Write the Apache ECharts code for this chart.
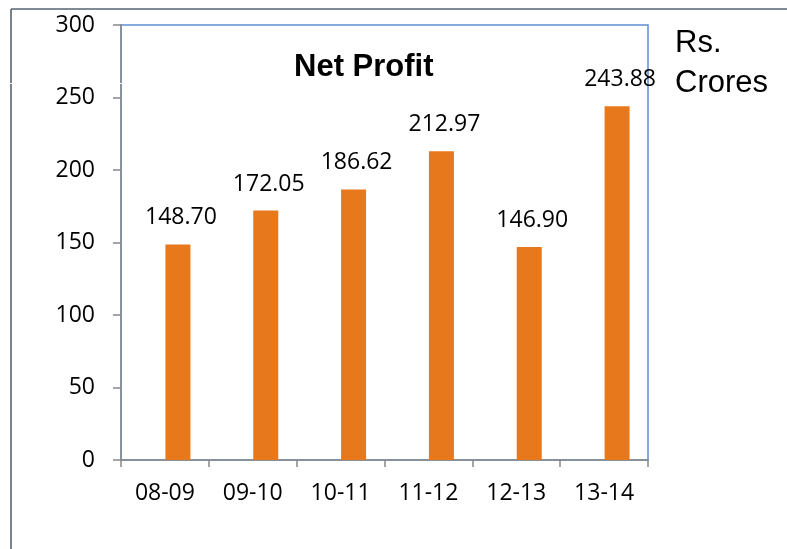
<!DOCTYPE html>
<html>
<head>
<meta charset="utf-8">
<script src="https://cdn.jsdelivr.net/npm/echarts@6/dist/echarts.min.js"></script>
<style>
  html, body { margin: 0; padding: 0; background: #fff; }
  #main { width: 787px; height: 549px; }
</style>
</head>
<body>
<div id="main"></div>
<script>
var years = ["08-09", "09-10", "10-11", "11-12", "12-13", "13-14"];
var netProfit = [148.70, 172.05, 186.62, 212.97, 146.90, 243.88];
var yTicks = { min: 0, max: 300, step: 50 };

var chart = echarts.init(document.getElementById("main"));
var option = {
  backgroundColor: "#fff",
  animation: false,
  title: {
    text: "Net Profit",
    left: 289,
    top: 47,
    textStyle: {
      fontFamily: "Liberation Sans",
      fontWeight: "bold",
      fontSize: 31,
      color: "#000",
    },
  },
  grid: {
    left: 121,
    right: 139,
    top: 25,
    bottom: 89,
    show: true,
    borderColor: "#5f8fd2",
    borderWidth: 1.5,
  },
  xAxis: {
    type: "category",
    data: years,
    axisLine: { lineStyle: { color: "#888", width: 1.5 } },
    axisTick: { show: true, length: 7, lineStyle: { color: "#888", width: 1.5 } },
    axisLabel: {
      margin: 22,
      color: "#000",
      fontFamily: "Open Sans",
      fontSize: 23,
    },
  },
  yAxis: {
    type: "value",
    min: yTicks.min,
    max: yTicks.max,
    interval: yTicks.step,
    axisLine: { show: true, lineStyle: { color: "#888", width: 1.5 } },
    axisTick: { show: true, length: 8, lineStyle: { color: "#888", width: 1.5 } },
    splitLine: { show: false },
    axisLabel: {
      margin: 26,
      color: "#000",
      fontFamily: "Open Sans",
      fontSize: 23,
    },
  },
  graphic: [
    {
      type: "line",
      shape: { x1: 11, y1: 9, x2: 11, y2: 549 },
      style: { stroke: "#56636f", lineWidth: 1.6 },
    },
    {
      type: "line",
      shape: { x1: 11, y1: 9, x2: 787, y2: 9 },
      style: { stroke: "#56636f", lineWidth: 1.6 },
    },
    {
      type: "rect",
      z: 100,
      shape: { x: 0, y: 83, width: 122, height: 1 },
      style: { fill: "#fff" },
    },
    {
      type: "text",
      left: 675,
      top: 28,
      style: {
        text: "Rs.",
        fontFamily: "Liberation Sans",
        fontSize: 31,
        fill: "#000",
      },
    },
    {
      type: "text",
      left: 675,
      top: 68,
      style: {
        text: "Crores",
        fontFamily: "Liberation Sans",
        fontSize: 31,
        fill: "#000",
      },
    },
  ],
  series: [
    {
      name: "",
      type: "bar",
      barWidth: 25,
      barGap: "4%",
      data: [],
    },
    {
      name: "Net Profit",
      type: "bar",
      barWidth: 25,
      barGap: "4%",
      data: netProfit,
      itemStyle: { color: "#e8781c" },
      label: {
        show: true,
        position: "top",
        distance: 15,
        offset: [3, 0],
        color: "#000",
        fontFamily: "Open Sans",
        fontSize: 23,
        formatter: function (p) { return p.value.toFixed(2); },
      },
    },
  ],
};
chart.setOption(option);
</script>
</body>
</html>
